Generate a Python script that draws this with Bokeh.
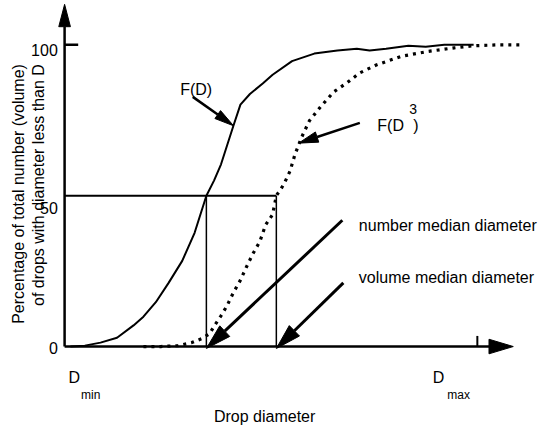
import math
from bokeh.plotting import figure
from bokeh.models import Range1d
from bokeh.core.properties import value
from bokeh.embed import file_html
from bokeh.resources import INLINE

# ---------------- data ----------------
# F(D): cumulative number distribution (solid)
D_number = [1.4, 4.9, 8.7, 12.7, 16.7, 19.1, 22.1, 25.2, 28.5, 31.5, 34.35, 36.2,
            37.9, 40.9, 42.6, 44.9, 48.0, 50.4, 55.1, 60.5, 66.1, 70.8, 73.9, 77.9,
            83.3, 87.5, 92.0, 99.1]
F_number = [0.0, 0.3, 1.3, 2.9, 7.0, 9.9, 14.7, 21.1, 28.4, 37.7, 50.0, 55.0,
            60.4, 73.2, 80.2, 83.7, 87.2, 90.1, 94.6, 97.1, 98.1, 98.7, 98.1, 98.7,
            99.7, 99.4, 100.0, 100.0]
# F(D^3): cumulative volume distribution (dotted)
D_volume = [19.1, 23.3, 27.5, 30.8, 33.2, 35.1, 36.2, 37.9, 39.3, 40.9, 42.6, 44.0,
            45.6, 47.3, 48.7, 50.4, 51.3, 52.5, 53.4, 54.6, 55.8, 57.4, 59.3, 62.1,
            65.2, 68.5, 71.5, 75.5, 81.6, 88.0, 94.4, 99.1, 105.2, 110.8]
F_volume = [0.0, 0.0, 0.3, 1.3, 2.6, 4.2, 6.7, 10.2, 13.4, 17.9, 22.0, 26.2,
            30.7, 34.8, 40.3, 43.8, 50.0, 52.4, 54.6, 58.1, 63.6, 69.3, 74.8, 79.6,
            84.4, 87.5, 90.7, 93.3, 96.2, 97.8, 99.0, 99.7, 100.0, 100.0]

NUMBER_MEDIAN = 34.35
VOLUME_MEDIAN = 51.3
MEDIAN_PCT = 50
D_MAX = 100
y_ticks = [0, 50, 100]
y_tick_labels = ["0", "50", "100"]

# ---------------- layout helpers ----------------
W, H = 539, 427            # figure size (fits the window with its 8px margin)
REF_W, REF_H = 555, 443    # drawing laid out on this grid, scaled to the figure
ORIGIN_X, ORIGIN_Y = 66, 359
KX, KY = 4.25, 3.13        # layout grid units per data unit


def RX(px):
    return (px - ORIGIN_X) / KX


def RY(py):
    return (ORIGIN_Y - py) / KY


x0, x1 = RX(0), RX(REF_W)
y0, y1 = RY(REF_H), RY(0)
sx = W / (x1 - x0)   # screen px per data unit
sy = H / (y1 - y0)
S = W / REF_W        # overall scale

p = figure(width=W, height=H, x_range=Range1d(x0, x1), y_range=Range1d(y0, y1),
           x_axis_type=None, y_axis_type=None, output_backend="svg",
           toolbar_location=None, min_border=0)
p.grid.visible = False
p.outline_line_color = None
p.background_fill_color = "white"
p.border_fill_color = "white"

FONT = value("Liberation Sans")
BLACK = "black"
FS = "16px"


def head(xt, yt, xf, yf, length, width):
    length *= S
    width *= S
    dx = (xt - xf) * sx
    dy = (yt - yf) * sy
    L = math.hypot(dx, dy)
    ux, uy = dx / L, dy / L
    bx, by = -ux * length, -uy * length
    nx, ny = -uy, ux
    pts = [(0, 0), (bx + nx * width / 2, by + ny * width / 2),
           (bx - nx * width / 2, by - ny * width / 2)]
    return [xt + a / sx for a, b in pts], [yt + b / sy for a, b in pts]


def arrow(xf, yf, xt, yt, length, width, lw):
    hx, hy = head(xt, yt, xf, yf, length, width)
    bxm = (hx[1] + hx[2]) / 2
    bym = (hy[1] + hy[2]) / 2
    p.line([xf, bxm], [yf, bym], line_color=BLACK, line_width=lw)
    p.patch(hx, hy, fill_color=BLACK, line_color=BLACK, line_width=1)


def label(px, py, txt, size=FS, align="left", **kw):
    p.text(x=[RX(px)], y=[RY(py)], text=[txt], text_font=FONT, text_font_size=size,
           text_align=align, text_baseline="middle", text_color=BLACK, **kw)


# axes with arrowheads
arrow(0, 0, 0, RY(4), 23, 12, 2.5)
arrow(0, 0, RX(528), 0, 25, 15, 2.5)
# ticks
p.line([0, RX(80)], [100, 100], line_color=BLACK, line_width=2.5)
p.line([D_MAX, D_MAX], [0, RY(348)], line_color=BLACK, line_width=2)

# tick labels
p.text(x=[RX(59)] * 3, y=y_ticks, text=y_tick_labels, text_font=FONT,
       text_font_size=FS, text_align="right", text_baseline="middle",
       y_offset=[1, 12, 5], text_color=BLACK)

# median guide lines
p.line([0, VOLUME_MEDIAN], [MEDIAN_PCT, MEDIAN_PCT], line_color=BLACK, line_width=2)
p.line([NUMBER_MEDIAN, NUMBER_MEDIAN], [0, MEDIAN_PCT], line_color=BLACK, line_width=1.5)
p.line([VOLUME_MEDIAN, VOLUME_MEDIAN], [0, MEDIAN_PCT], line_color=BLACK, line_width=1.5)

# curves
p.line(D_number, F_number, line_color=BLACK, line_width=2)
p.line(D_volume, F_volume, line_color=BLACK, line_width=3.2, line_dash="3 5")

# curve labels and arrows
label(185, 92, "F(D)")
arrow(RX(198), RY(100), RX(240), RY(130), 20, 10, 2.5)

label(388, 130, "F(D")
label(421, 113, "3", size="14px")
label(425, 130, ")")
arrow(RX(370), RY(127), RX(307), RY(148), 20, 11, 2.5)

# median arrows
arrow(RX(352), RY(228), NUMBER_MEDIAN, RY(361), 26, 15, 3)
arrow(RX(353), RY(293), VOLUME_MEDIAN, RY(361), 26, 15, 3)
label(369, 233, "number median diameter")
label(369, 287, "volume median diameter")

# D min / D max labels
label(70, 391, "D")
label(445, 391, "D")
label(83, 409, "min", size="12px")
label(460, 409, "max", size="12px")

# axis titles
label(272, 432, "Drop diameter", align="center")
label(19, 66, "Percentage of total number (volume)", align="right", angle=math.pi / 2)
label(39, 66, "of drops with diameter less than D", align="right", angle=math.pi / 2)

open("out.html", "w").write(file_html(p, INLINE))
